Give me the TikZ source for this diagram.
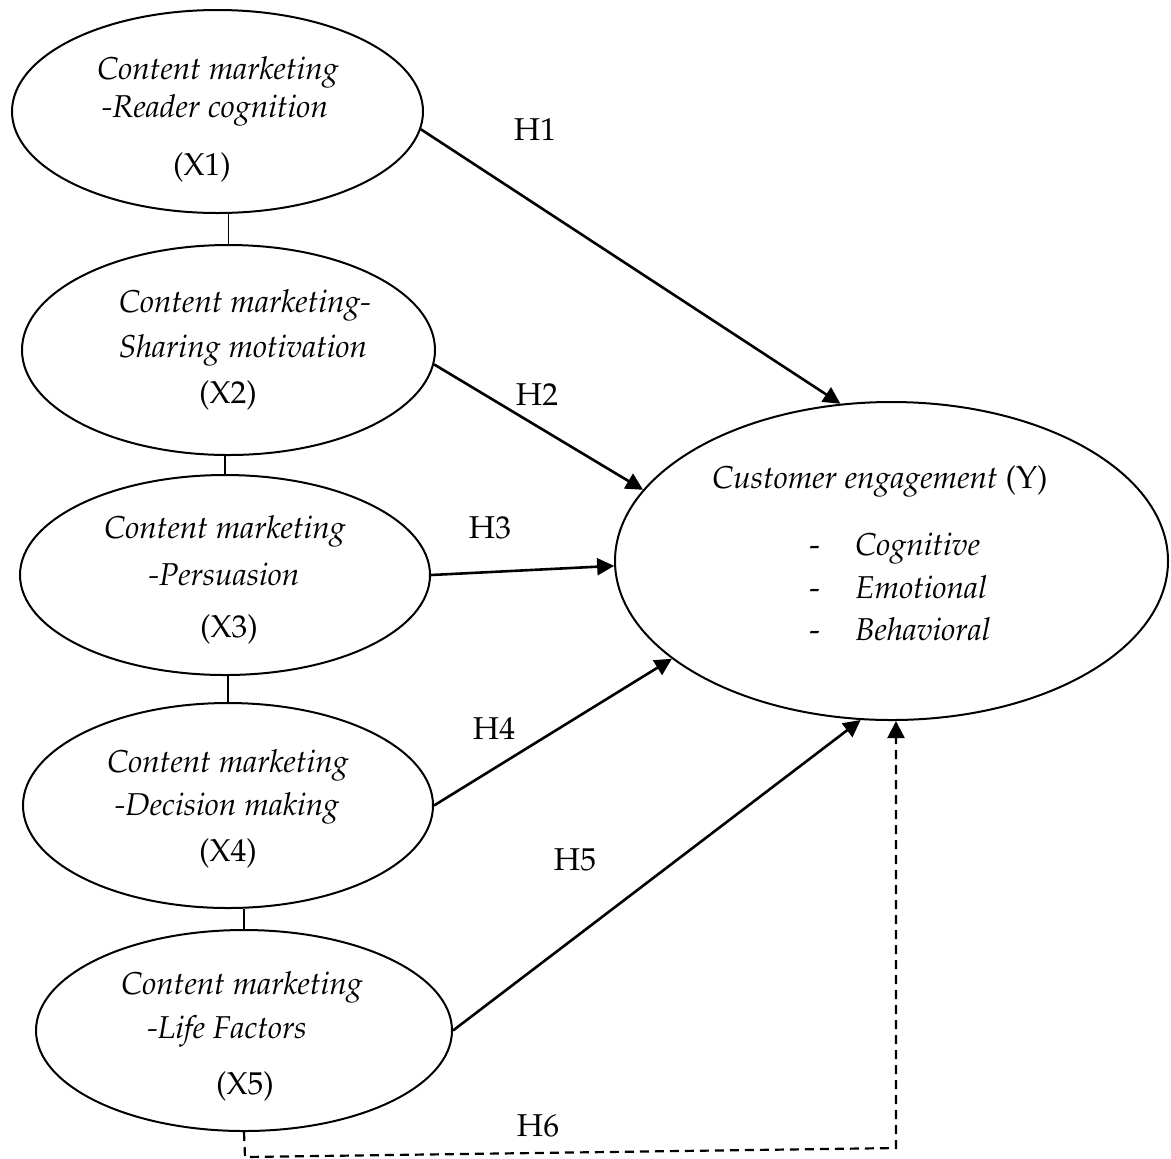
\documentclass[tikz,border=0pt]{standalone}
\usepackage[T1]{fontenc}
\usepackage{mathpazo}
\usetikzlibrary{arrows.meta,shapes.geometric}
\begin{document}
\begin{tikzpicture}[x=0.5pt,y=-0.5pt,
  ell/.style={ellipse,draw,line width=1pt,inner sep=0pt},
  txt/.style={anchor=base,inner sep=0pt,font=\fontsize{15.8}{18}\selectfont},
  arr/.style={line width=1.3pt,-{Triangle[length=8.5pt,width=8.5pt]}},
  lnk/.style={line width=0.9pt},
  dsh/.style={line width=1.1pt,dash pattern=on 4.5pt off 3pt,-{Triangle[length=8.5pt,width=8.5pt]}}]
\useasboundingbox (0,0) rectangle (1171,1158);
% ellipses
\node[ell,minimum width=205.5pt,minimum height=101.5pt] (X1) at (217.5,111.5) {};
\node[ell,minimum width=206.5pt,minimum height=105pt] (X2) at (228.5,350) {};
\node[ell,minimum width=205pt,minimum height=100pt] (X3) at (225,575) {};
\node[ell,minimum width=205pt,minimum height=102.5pt] (X4) at (228,805.5) {};
\node[ell,minimum width=208pt,minimum height=100.5pt] (X5) at (244,1030.5) {};
\node[ell,minimum width=276.5pt,minimum height=159pt] (Y) at (891.5,561) {};
% texts
\node[txt] (t11) at (218,79) {\textit{Content marketing}};
\node[txt] (t12) at (215,117) {\textit{-Reader cognition}};
\node[txt] (t13) at (202,175) {(X1)};
\node[txt] (t21) at (245,312) {\textit{Content marketing-}};
\node[txt] (t22) at (243,357) {\textit{Sharing motivation}};
\node[txt] (t23) at (228,403) {(X2)};
\node[txt] (t31) at (225,538) {\textit{Content marketing}};
\node[txt] (t32) at (224,585) {\textit{-Persuasion}};
\node[txt] (t33) at (229,637) {(X3)};
\node[txt] (t41) at (228,772) {\textit{Content marketing}};
\node[txt] (t42) at (227,815) {\textit{-Decision making}};
\node[txt] (t43) at (228,861) {(X4)};
\node[txt] (t51) at (242,994) {\textit{Content marketing}};
\node[txt] (t52) at (227,1038) {\textit{-Life Factors}};
\node[txt] (t53) at (245,1094) {(X5)};
\node[txt] (ty) at (880,488) {\textit{Customer engagement} (Y)};
\node[txt,anchor=base west] (d1) at (809,555) {-};
\node[txt,anchor=base west] (d2) at (809,598) {-};
\node[txt,anchor=base west] (d3) at (809,640) {-};
\node[txt,anchor=base west] (y1) at (855,555) {\textit{Cognitive}};
\node[txt,anchor=base west] (y2) at (855,598) {\textit{Emotional}};
\node[txt,anchor=base west] (y3) at (855,640) {\textit{Behavioral}};
% hypothesis labels
\node[txt] (h1) at (535,140) {H1};
\node[txt] (h2) at (537,405) {H2};
\node[txt] (h3) at (490,538) {H3};
\node[txt] (h4) at (494,739) {H4};
\node[txt] (h5) at (575,870) {H5};
\node[txt] (h6) at (538,1136) {H6};
% links between X
\draw[lnk] (X2.north |- X1.south) -- (X2.north);
\draw[lnk] (X3.north |- X2.south) -- (X3.north);
\draw[lnk] (X4.north |- X3.south) -- (X4.north);
\draw[lnk] (X5.north |- X4.south) -- (X5.north);
% arrows
\draw[arr] (X1.-5.9) -- (Y.108.9);
\draw[arr] (X2.-4.2) -- (Y.164.7);
\draw[arr] (X3.0.8) -- (Y.181.2);
\draw[arr] (X4.-0.4) -- (Y.204.6);
\draw[arr] (X5.0) -- (Y.259.2);
\coordinate (c1) at (245,1157);
\coordinate (c2) at (896,1148);
\draw[dsh] (X5.south) -- (c1) -- (c2) -- (c2 |- Y.south);
\end{tikzpicture}
\end{document}
